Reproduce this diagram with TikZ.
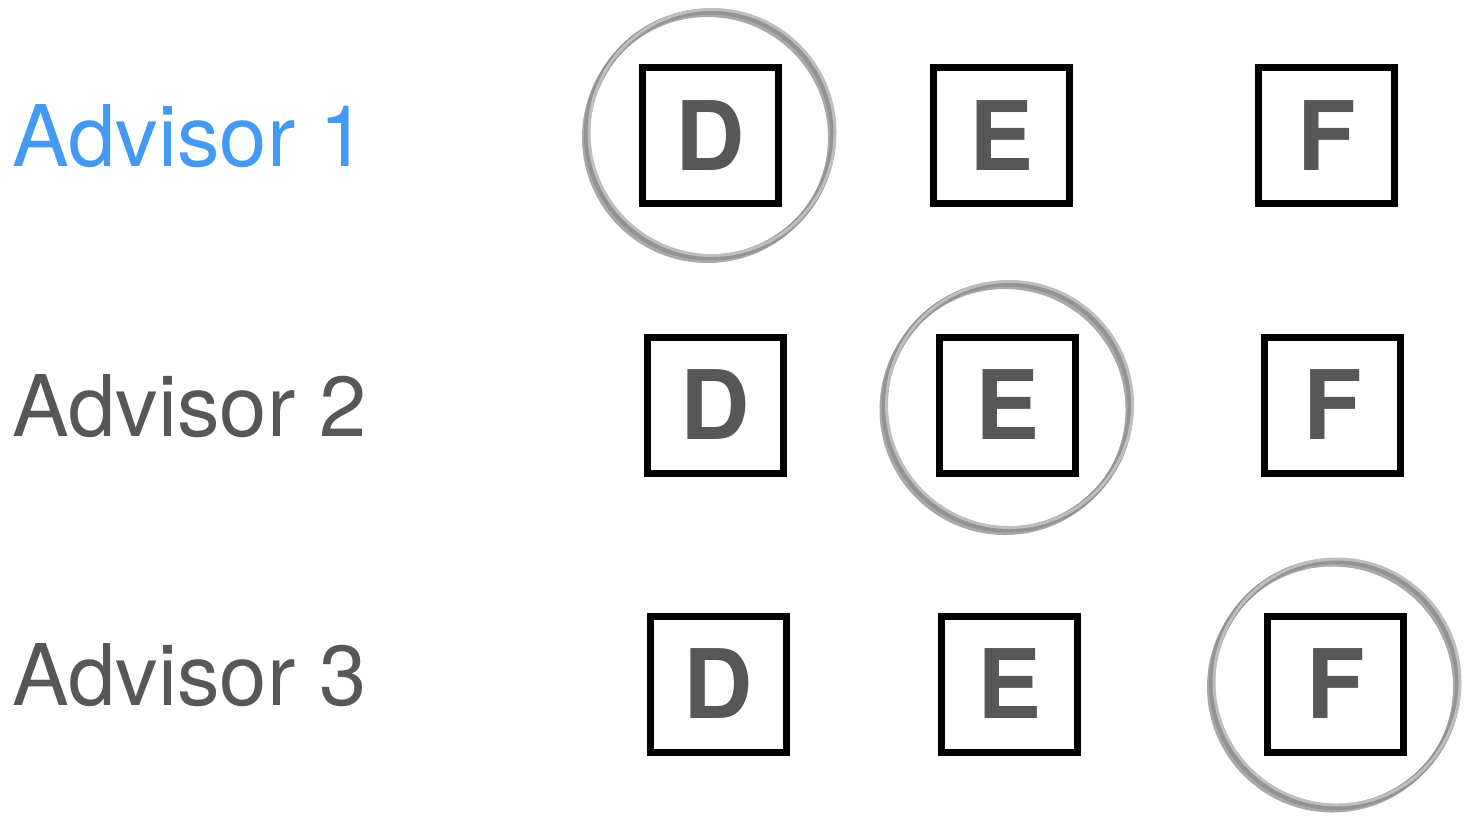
\documentclass[tikz,border=0pt]{standalone}
\usepackage{fontspec}
\setmainfont{TeX Gyre Heros}
\usepackage{xcolor}
\usepackage{tikz}
\definecolor{advblue}{HTML}{4499F5}
\definecolor{txtgray}{HTML}{575757}
\definecolor{ringgray}{HTML}{939393}

\begin{document}
\begin{tikzpicture}[
   opt/.style={rectangle,draw=black,line width=0.07cm,minimum size=1.36cm,inner sep=0pt,
     text=txtgray,font=\fontsize{27.3pt}{30pt}\selectfont\bfseries},
   adv/.style={anchor=base west,inner sep=0pt,text=txtgray,font=\fontsize{24.2pt}{28pt}\selectfont},
   ring/.style={circle,draw=ringgray,line width=0.06cm,minimum size=2.46cm,inner sep=0pt,
     preaction={draw=ringgray!80,line width=0.05cm,transform canvas={shift={(-0.025cm,-0.03cm)}}},
     postaction={draw=ringgray!60,line width=0.03cm,transform canvas={shift={(0.02cm,0.02cm)}}}}]
  \useasboundingbox (0,0) rectangle (14.78,-8.22);
  \node[adv,text=advblue] (a1) at (0.12,-1.66) {Advisor 1};
  \node[adv] (a2) at (0.12,-4.36) {Advisor 2};
  \node[adv] (a3) at (0.12,-7.05) {Advisor 3};
  \node[opt] (d1) at (7.10,-1.355) {D};
  \node[opt] (e1) at (10.015,-1.355) {E};
  \node[opt] (f1) at (13.265,-1.355) {F};
  \node[opt] (d2) at (7.155,-4.05) {D};
  \node[opt] (e2) at (10.075,-4.05) {E};
  \node[opt] (f2) at (13.325,-4.05) {F};
  \node[opt] (d3) at (7.185,-6.84) {D};
  \node[opt] (e3) at (10.095,-6.84) {E};
  \node[opt] (f3) at (13.355,-6.84) {F};
  \node[ring] (r1) at ([yshift=0.01cm]d1) {};
  \node[ring] (r2) at ([yshift=-0.015cm]e2) {};
  \node[ring] (r3) at ([xshift=-0.005cm]f3) {};
\end{tikzpicture}
\end{document}
